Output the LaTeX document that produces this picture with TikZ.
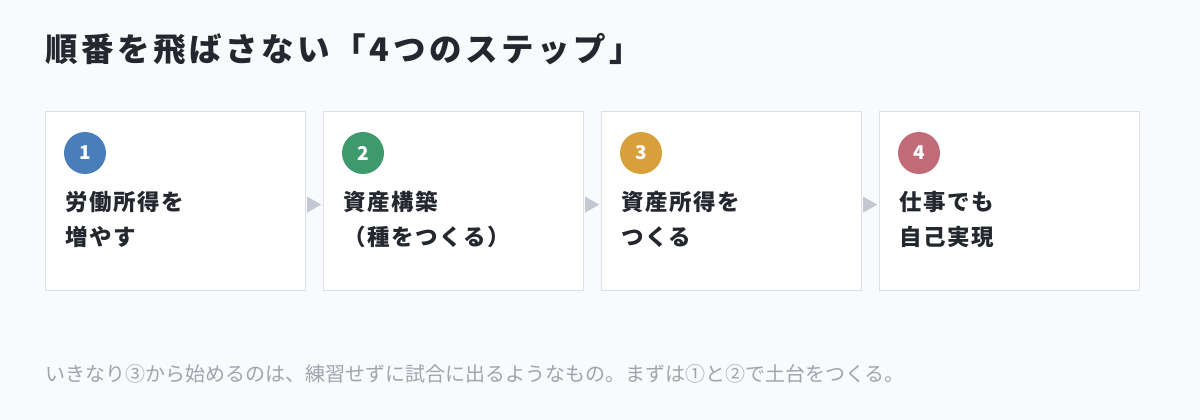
\documentclass[tikz,border=0pt]{standalone}
\usepackage{fontspec}
\setmainfont{Noto Sans CJK JP}
\newfontfamily\titlefont[LetterSpace=11]{Noto Sans CJK JP}
\newfontfamily\stepfont[LetterSpace=7]{Noto Sans CJK JP}
\usetikzlibrary{positioning,calc}

\definecolor{pagebg}{HTML}{F9FAFC}
\definecolor{boxline}{HTML}{DCDFE7}
\definecolor{arrowgray}{HTML}{C4C8D2}
\definecolor{inkdark}{HTML}{24272E}
\definecolor{inkgray}{HTML}{A0A4AC}
\definecolor{stepone}{HTML}{4A7EBB}
\definecolor{steptwo}{HTML}{3E9A6C}
\definecolor{stepthree}{HTML}{D8A03A}
\definecolor{stepfour}{HTML}{C06B77}

\tikzset{
  stepbox/.style={draw=boxline, line width=1.2pt, fill=white, anchor=north west,
    minimum width=260, minimum height=179, inner sep=0pt},
  stepnum/.style={circle, fill=#1, text=white, minimum size=42, inner sep=0pt,
    font=\bfseries\fontsize{19}{19}\selectfont},
  steptext/.style={anchor=base west, align=left, inner sep=0pt, text=inkdark,
    font=\stepfont\bfseries\fontsize{22.5}{35}\selectfont}
}

\begin{document}
\begin{tikzpicture}[x=1pt,y=-1pt]

\fill[pagebg] (0,0) rectangle (1200,420);

\node[anchor=base west, inner sep=0pt, text=inkdark, font=\titlefont\bfseries\fontsize{32.5}{32.5}\selectfont] (title) at (45,62) {順番を飛ばさない「4つのステップ」};

\foreach \i/\col/\txt in {1/stepone/{労働所得を\\増やす},2/steptwo/{資産構築\\（種をつくる）},3/stepthree/{資産所得を\\つくる},4/stepfour/{仕事でも\\自己実現}}
{
\node[stepbox] (box\i) at ({45+278*(\i-1)},111) {};
\node[stepnum=\col] (num\i) at ({85+278*(\i-1)},153) {\i};
\node[steptext] (txt\i) at ({65+278*(\i-1)},245) {\txt};
}

% triangles between the boxes
\foreach \i in {1,2,3}
{
\fill[arrowgray] ($(box\i.east)+(1,-4.5)$) -- ($(box\i.east)+(1,11.5)$) -- ($(box\i.east)+(15,3.5)$) -- cycle;
}

\node[anchor=base west, inner sep=0pt, text=inkgray, font=\fontsize{20}{20}\selectfont] (note) at (45,381) {いきなり③から始めるのは、練習せずに試合に出るようなもの。まずは①と②で土台をつくる。};

\end{tikzpicture}
\end{document}
